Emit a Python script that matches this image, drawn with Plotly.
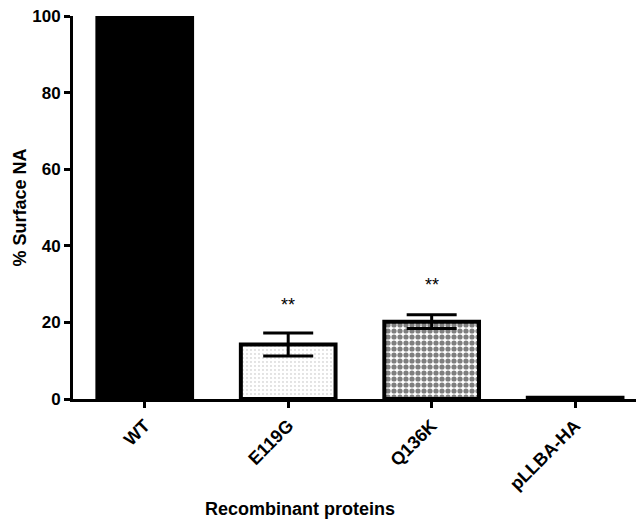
import plotly.graph_objects as go

categories = ["WT", "E119G", "Q136K", "pLLBA-HA"]
values = [100, 14.2, 20.2, 0.3]
errors = [0, 3.0, 1.8, 0]
significance = ["", "**", "**", ""]
sig_y = [None, 24.5, 29.7, None]
y_ticks = [0, 20, 40, 60, 80, 100]

FONT = "Arial, Liberation Sans, Helvetica, sans-serif"

# page has an 8px body margin; compensate so the figure lands like the reference
OFF = 8
W, H = 644 - OFF, 521 - OFF
PLOT_L, PLOT_T, PLOT_B = 73 - OFF, 16 - OFF, 399 - OFF

patterns = [
    dict(shape="", bgcolor="black"),
    dict(shape=".", fgcolor="#707070", bgcolor="white", size=4, solidity=0.1),
    dict(shape=".", fgcolor="black", bgcolor="white", size=6, solidity=0.6),
    dict(shape="", bgcolor="black"),
]

fig = go.Figure()
for i, cat in enumerate(categories):
    fig.add_trace(go.Bar(
        x=[cat], y=[values[i]],
        width=0.66,
        marker=dict(color="black" if i in (0, 3) else "white",
                    line=dict(color="black", width=4),
                    pattern=patterns[i]),
        error_y=dict(type="data", array=[errors[i]], visible=errors[i] > 0,
                     color="black", thickness=3, width=25),
        showlegend=False,
    ))

for i, s in enumerate(significance):
    if s:
        fig.add_annotation(x=categories[i], y=sig_y[i], text=s, showarrow=False,
                           font=dict(family=FONT, size=18, color="black"))

fig.add_annotation(xref="paper", yref="paper", x=(300 - 73) / (644 - 73), y=0,
                   xanchor="center", yanchor="middle", yshift=-110,
                   text="Recombinant proteins", showarrow=False,
                   font=dict(family=FONT, size=18, color="black", weight="bold"))
fig.add_annotation(xref="paper", yref="paper", x=0, y=0.5, xshift=-54,
                   xanchor="center", yanchor="middle",
                   text="% Surface NA", textangle=-90, showarrow=False,
                   font=dict(family=FONT, size=18, color="black", weight="bold"))

fig.update_layout(
    width=W, height=H,
    margin=dict(l=PLOT_L, r=0, t=PLOT_T, b=H - PLOT_B, pad=0),
    plot_bgcolor="white", paper_bgcolor="white",
)
fig.update_xaxes(
    range=[-0.5, 3.48], showline=True, linecolor="black", linewidth=3,
    ticks="outside", ticklen=6, tickwidth=3, tickcolor="black",
    tickangle=-45, showgrid=False, zeroline=False,
    tickfont=dict(family=FONT, size=18, color="black", weight="bold"),
)
fig.update_yaxes(
    range=[0, 100], tickvals=y_ticks, showline=True, linecolor="black", linewidth=3,
    ticks="outside", ticklen=6, tickwidth=3, tickcolor="black",
    showgrid=False, zeroline=False, ticklabeloverflow="allow",
    tickfont=dict(family=FONT, size=17, color="black", weight="bold"),
)

fig.write_html("out.html")
